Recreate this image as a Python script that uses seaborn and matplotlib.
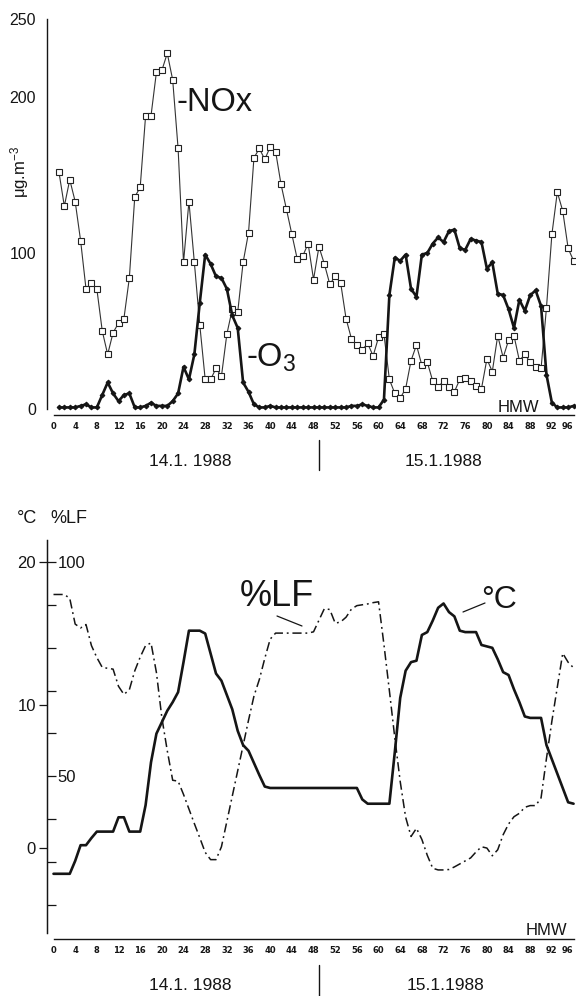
import matplotlib
matplotlib.use('Agg')
import matplotlib.pyplot as plt
from matplotlib.lines import Line2D
import pandas as pd
import seaborn as sns

# --- data (half-hour means, HMW) ---
hmw_top = list(range(1, 97))
nox = [152, 130, 147, 133, 108, 77, 81, 77, 50, 35, 49, 55, 58, 84, 136, 142,
       188, 188, 216, 217, 228, 211, 167, 94, 133, 94, 54, 19, 19, 26, 21, 48,
       64, 62, 94, 113, 161, 167, 160, 168, 165, 144, 128, 112, 96, 98, 106, 83,
       104, 93, 80, 85, 81, 58, 45, 41, 38, 42, 34, 46, 48, 19, 10, 7, 13, 31,
       41, 28, 30, 18, 14, 18, 14, 11, 19, 20, 18, 15, 13, 32, 24, 47, 33, 44,
       47, 31, 35, 30, 27, 26, 65, 112, 139, 127, 103, 95]
o3 = [1, 1, 1, 1, 2, 3, 1, 1, 9, 17, 10, 5, 9, 10, 1, 1,
      2, 4, 2, 2, 2, 5, 10, 27, 19, 35, 68, 99, 93, 85, 84, 77,
      60, 52, 17, 11, 3, 1, 1, 2, 1, 1, 1, 1, 1, 1, 1, 1,
      1, 1, 1, 1, 1, 1, 2, 2, 3, 2, 1, 1, 6, 73, 97, 95, 99, 77,
      72, 99, 100, 106, 110, 107, 114, 115, 103, 102, 109, 108, 107, 90, 94, 74,
      73, 64, 52, 70, 63, 73, 76, 66, 22, 4, 1, 1, 1, 2]

hmw_bottom = list(range(0, 97))
temp_c = [-1.8, -1.8, -1.8, -1.8, -0.9, 0.2, 0.2, 0.7, 1.15, 1.15, 1.15, 1.15, 2.15,
          2.15, 1.15, 1.15, 1.15, 3.0, 6.0, 8.0, 8.8, 9.6, 10.2, 10.9, 13.0, 15.2,
          15.2, 15.2, 15.0, 13.6, 12.2, 11.7, 10.7, 9.7, 8.2, 7.2, 6.8, 5.95, 5.1,
          4.3, 4.2, 4.2, 4.2, 4.2, 4.2, 4.2, 4.2, 4.2, 4.2, 4.2, 4.2, 4.2, 4.2,
          4.2, 4.2, 4.2, 4.2, 3.4, 3.1, 3.1, 3.1, 3.1, 3.1, 6.7, 10.5, 12.4, 13.0,
          13.1, 14.9, 15.1, 15.9, 16.8, 17.1, 16.5, 16.2, 15.2, 15.1, 15.1, 15.1,
          14.2, 14.1, 14.0, 13.2, 12.3, 12.1, 11.1, 10.2, 9.2, 9.1, 9.1, 9.1, 7.2,
          6.2, 5.2, 4.2, 3.2, 3.1]
rel_hum = [92.4, 92.4, 92.4, 91.5, 85.5, 84.6, 85.4, 80.5, 77.7, 75.4, 75.2, 75.0,
           71.0, 69.1, 70.2, 74.6, 77.8, 80.5, 81.1, 74.2, 63.7, 56.0, 49.1, 48.9,
           45.8, 42.4, 39.0, 35.7, 32.3, 30.6, 30.6, 33.6, 39.5, 45.4, 51.3, 57.2,
           63.1, 68.7, 72.6, 77.5, 82.0, 83.4, 83.4, 83.4, 83.4, 83.4, 83.4, 83.4,
           83.7, 86.4, 89.1, 88.9, 85.7, 86.0, 87.1, 89.0, 89.8, 90.0, 90.2, 90.5,
           90.7, 80.7, 70.0, 59.0, 48.8, 40.5, 36.0, 37.9, 35.3, 31.6, 28.6, 28.2,
           28.2, 28.3, 28.9, 29.6, 30.3, 31.0, 32.4, 33.6, 33.3, 31.5, 32.9, 36.4,
           38.9, 40.6, 41.4, 42.8, 43.2, 43.2, 45.0, 54.2, 62.9, 70.8, 78.7, 76.6,
           75.3]

x_ticks = list(range(0, 97, 4))
day_labels = ['14.1. 1988', '15.1.1988']

sns.set_style('white')
plt.rcParams['font.family'] = ['Liberation Sans', 'DejaVu Sans']
plt.rcParams['mathtext.fontset'] = 'custom'
plt.rcParams['mathtext.rm'] = 'Liberation Sans'
plt.rcParams['mathtext.default'] = 'rm'

W, H = 576, 996
INK = '#151515'
fig = plt.figure(figsize=(W / 100, H / 100), dpi=100)


def fx(px):
    return px / W


def fy(py):
    return 1 - py / H


def style_xaxis(ax):
    # spine moves first: set_position resets the ticks
    ax.spines['bottom'].set_position(('outward', 4))
    ax.spines['bottom'].set_bounds(0, 96)
    for s in ['top', 'right']:
        ax.spines[s].set_visible(False)
    for s in ['bottom', 'left']:
        ax.spines[s].set_color(INK)
        ax.spines[s].set_linewidth(1.0)
    ax.set_xlim(-1.2, 96.45)
    ax.tick_params(axis='x', direction='out', length=3.5, width=0.9, pad=2, colors=INK)
    ax.set_xticks(x_ticks)
    ax.set_xticklabels([str(t) for t in x_ticks], fontsize=6,
                       fontweight='bold', family='DejaVu Sans')
    ax.set_xlabel('')
    ax.set_ylabel('')


# --- top panel: NOx and O3 ---
df_top = pd.DataFrame({'HMW': hmw_top, 'NOx': nox, 'O3': o3})
ax1 = fig.add_axes([fx(47), (H - 409) / H, 529 / W, 390 / H])
sns.lineplot(data=df_top, x='HMW', y='NOx', ax=ax1, color='#333333', lw=0.8,
             marker='s', markersize=4, markerfacecolor='white',
             markeredgecolor='#222222', markeredgewidth=0.8, clip_on=False,
             errorbar=None)
sns.lineplot(data=df_top, x='HMW', y='O3', ax=ax1, color=INK, lw=1.9,
             marker='D', markersize=2.4, markerfacecolor=INK,
             markeredgecolor=INK, clip_on=False, errorbar=None)
style_xaxis(ax1)
ax1.set_ylim(0, 250)
ax1.set_yticks([0, 100, 200, 250])
ax1.set_yticks(range(0, 251, 10), minor=True)
ax1.tick_params(axis='y', which='both', direction='out', length=5, width=0.9,
                labelsize=11.5, pad=3, colors=INK)

fig.text(fx(20), fy(172), 'μg.m$^{-3}$', rotation=90, fontsize=12,
         ha='center', va='center', color=INK)
fig.text(fx(177), fy(111), '-NOx', fontsize=23.5, ha='left', va='baseline', color=INK)
fig.text(fx(246), fy(367), '-O$_3$', fontsize=23.5, ha='left', va='baseline', color=INK)
fig.text(fx(539), fy(412), 'HMW', fontsize=12, ha='right', va='baseline', color=INK)
fig.text(fx(190), fy(462), day_labels[0], fontsize=12.5, ha='center', va='center', color=INK)
fig.text(fx(443), fy(462), day_labels[1], fontsize=12.5, ha='center', va='center', color=INK)
fig.add_artist(Line2D([fx(319), fx(319)], [fy(440), fy(470)], color=INK, lw=1.0))

# --- bottom panel: temperature and relative humidity ---
df_bot = pd.DataFrame({'HMW': hmw_bottom, 'T': temp_c, 'LF': rel_hum})
ax2 = fig.add_axes([fx(47), (H - 933) / H, 529 / W, 393 / H])
sns.lineplot(data=df_bot, x='HMW', y='T', ax=ax2, color=INK, lw=1.9,
             clip_on=False, errorbar=None)
style_xaxis(ax2)
ax2.set_ylim(-5.94, 21.54)
ax2.set_yticks([0, 10, 20])
ax2.tick_params(axis='y', direction='out', length=6, width=0.9, labelsize=12,
                pad=2, colors=INK)

ax3 = ax2.twinx()
sns.lineplot(data=df_bot, x='HMW', y='LF', ax=ax3, color=INK, lw=1.1,
             clip_on=False, errorbar=None)
ax3.lines[-1].set_dashes([6, 2.5, 1.2, 2.5])
ax3.spines['right'].set_position(('axes', 0))
for s in ['top', 'bottom', 'left']:
    ax3.spines[s].set_visible(False)
ax3.spines['right'].set_color(INK)
ax3.set_ylim(13.5, 105.1)
ax3.set_xlim(-1.2, 96.45)
ax3.set_yticks([50, 100])
ax3.set_yticks([20, 30, 40, 60, 70, 80, 90], minor=True)
ax3.tick_params(axis='y', which='both', direction='out', length=6.5, width=0.9,
                labelsize=12, pad=1, colors=INK)
ax3.set_ylabel('')

fig.text(fx(17), fy(518), '°C', fontsize=13, ha='left', va='center', color=INK)
fig.text(fx(50), fy(518), '%LF', fontsize=13, ha='left', va='center', color=INK)
fig.text(fx(240), fy(606), '%LF', fontsize=26, ha='left', va='baseline', color=INK)
fig.add_artist(Line2D([fx(277), fx(302)], [fy(616), fy(626)], color=INK, lw=0.9))
fig.text(fx(481), fy(608), '°C', fontsize=23, ha='left', va='baseline', color=INK)
fig.add_artist(Line2D([fx(485), fx(463)], [fy(603), fy(612)], color=INK, lw=0.9))
fig.text(fx(567), fy(935), 'HMW', fontsize=12, ha='right', va='baseline', color=INK)
fig.text(fx(190), fy(985), day_labels[0], fontsize=12.5, ha='center', va='center', color=INK)
fig.text(fx(445), fy(985), day_labels[1], fontsize=12.5, ha='center', va='center', color=INK)
fig.add_artist(Line2D([fx(319), fx(319)], [fy(965), fy(996)], color=INK, lw=1.0))

# last tick label sits at the right edge, keep it inside
for ax in (ax1, ax2):
    ax.get_xticklabels()[-1].set_horizontalalignment('right')

fig.savefig('out.png', dpi=100, facecolor='white')
